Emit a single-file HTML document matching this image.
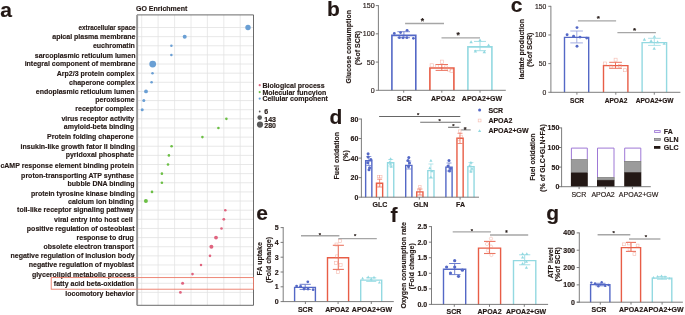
<!DOCTYPE html>
<html><head><meta charset="utf-8"><style>
html,body{margin:0;padding:0;background:#fff;width:685px;height:315px;overflow:hidden}
svg{display:block;will-change:transform}
text{font-family:"Liberation Sans", sans-serif;stroke:#231815;stroke-width:0.15px}
</style></head><body>
<svg width="685" height="315" viewBox="0 0 685 315">
<text x="0.2" y="16.6" font-size="21" font-weight="bold" text-anchor="start" fill="#231815">a</text>
<text x="327.0" y="16.2" font-size="21" font-weight="bold" text-anchor="start" fill="#231815">b</text>
<text x="510.8" y="12.2" font-size="21" font-weight="bold" text-anchor="start" fill="#231815">c</text>
<text x="329.5" y="123.9" font-size="21" font-weight="bold" text-anchor="start" fill="#231815">d</text>
<text x="256.2" y="220.1" font-size="21" font-weight="bold" text-anchor="start" fill="#231815">e</text>
<text x="390.6" y="222.1" font-size="21" font-weight="bold" text-anchor="start" fill="#231815">f</text>
<text x="546.3" y="220.0" font-size="21" font-weight="bold" text-anchor="start" fill="#231815">g</text>
<rect x="137.0" y="14.9" width="116.5" height="290.40000000000003" fill="#fff" stroke="none" stroke-width="1"/>
<line x1="141.7" y1="14.9" x2="141.7" y2="305.3" stroke="#e4e4e4" stroke-width="0.8"/>
<line x1="158.1" y1="14.9" x2="158.1" y2="305.3" stroke="#e4e4e4" stroke-width="0.8"/>
<line x1="174.6" y1="14.9" x2="174.6" y2="305.3" stroke="#e4e4e4" stroke-width="0.8"/>
<line x1="191.0" y1="14.9" x2="191.0" y2="305.3" stroke="#e4e4e4" stroke-width="0.8"/>
<line x1="207.4" y1="14.9" x2="207.4" y2="305.3" stroke="#e4e4e4" stroke-width="0.8"/>
<line x1="223.8" y1="14.9" x2="223.8" y2="305.3" stroke="#e4e4e4" stroke-width="0.8"/>
<line x1="240.2" y1="14.9" x2="240.2" y2="305.3" stroke="#e4e4e4" stroke-width="0.8"/>
<line x1="137.0" y1="27.5" x2="253.5" y2="27.5" stroke="#e2e2e2" stroke-width="0.8"/>
<line x1="137.0" y1="36.634" x2="253.5" y2="36.634" stroke="#e2e2e2" stroke-width="0.8"/>
<line x1="137.0" y1="45.768" x2="253.5" y2="45.768" stroke="#e2e2e2" stroke-width="0.8"/>
<line x1="137.0" y1="54.902" x2="253.5" y2="54.902" stroke="#e2e2e2" stroke-width="0.8"/>
<line x1="137.0" y1="64.036" x2="253.5" y2="64.036" stroke="#e2e2e2" stroke-width="0.8"/>
<line x1="137.0" y1="73.17" x2="253.5" y2="73.17" stroke="#e2e2e2" stroke-width="0.8"/>
<line x1="137.0" y1="82.304" x2="253.5" y2="82.304" stroke="#e2e2e2" stroke-width="0.8"/>
<line x1="137.0" y1="91.438" x2="253.5" y2="91.438" stroke="#e2e2e2" stroke-width="0.8"/>
<line x1="137.0" y1="100.572" x2="253.5" y2="100.572" stroke="#e2e2e2" stroke-width="0.8"/>
<line x1="137.0" y1="109.706" x2="253.5" y2="109.706" stroke="#e2e2e2" stroke-width="0.8"/>
<line x1="137.0" y1="118.84" x2="253.5" y2="118.84" stroke="#e2e2e2" stroke-width="0.8"/>
<line x1="137.0" y1="127.974" x2="253.5" y2="127.974" stroke="#e2e2e2" stroke-width="0.8"/>
<line x1="137.0" y1="137.108" x2="253.5" y2="137.108" stroke="#e2e2e2" stroke-width="0.8"/>
<line x1="137.0" y1="146.24200000000002" x2="253.5" y2="146.24200000000002" stroke="#e2e2e2" stroke-width="0.8"/>
<line x1="137.0" y1="155.376" x2="253.5" y2="155.376" stroke="#e2e2e2" stroke-width="0.8"/>
<line x1="137.0" y1="164.51" x2="253.5" y2="164.51" stroke="#e2e2e2" stroke-width="0.8"/>
<line x1="137.0" y1="173.644" x2="253.5" y2="173.644" stroke="#e2e2e2" stroke-width="0.8"/>
<line x1="137.0" y1="182.77800000000002" x2="253.5" y2="182.77800000000002" stroke="#e2e2e2" stroke-width="0.8"/>
<line x1="137.0" y1="191.912" x2="253.5" y2="191.912" stroke="#e2e2e2" stroke-width="0.8"/>
<line x1="137.0" y1="201.046" x2="253.5" y2="201.046" stroke="#e2e2e2" stroke-width="0.8"/>
<line x1="137.0" y1="210.18" x2="253.5" y2="210.18" stroke="#e2e2e2" stroke-width="0.8"/>
<line x1="137.0" y1="219.31400000000002" x2="253.5" y2="219.31400000000002" stroke="#e2e2e2" stroke-width="0.8"/>
<line x1="137.0" y1="228.448" x2="253.5" y2="228.448" stroke="#e2e2e2" stroke-width="0.8"/>
<line x1="137.0" y1="237.582" x2="253.5" y2="237.582" stroke="#e2e2e2" stroke-width="0.8"/>
<line x1="137.0" y1="246.716" x2="253.5" y2="246.716" stroke="#e2e2e2" stroke-width="0.8"/>
<line x1="137.0" y1="255.85000000000002" x2="253.5" y2="255.85000000000002" stroke="#e2e2e2" stroke-width="0.8"/>
<line x1="137.0" y1="264.98400000000004" x2="253.5" y2="264.98400000000004" stroke="#e2e2e2" stroke-width="0.8"/>
<line x1="137.0" y1="274.118" x2="253.5" y2="274.118" stroke="#e2e2e2" stroke-width="0.8"/>
<line x1="137.0" y1="283.252" x2="253.5" y2="283.252" stroke="#e2e2e2" stroke-width="0.8"/>
<line x1="137.0" y1="292.386" x2="253.5" y2="292.386" stroke="#e2e2e2" stroke-width="0.8"/>
<path d="M137.0 305.3 V14.9 H253.5 V305.3 Z" fill="none" stroke="#5a5a5a" stroke-width="0.9"/>
<line x1="137.3" y1="14.9" x2="137.3" y2="305.3" stroke="#9a9a9a" stroke-width="1.6"/>
<circle cx="248" cy="27.5" r="2.7" fill="#6a9fd4"/>
<circle cx="184.7" cy="36.634" r="2.0" fill="#6a9fd4"/>
<circle cx="171.4" cy="45.768" r="1.25" fill="#6a9fd4"/>
<circle cx="171.4" cy="54.902" r="1.25" fill="#6a9fd4"/>
<circle cx="152.7" cy="64.036" r="3.4" fill="#6a9fd4"/>
<circle cx="152.5" cy="73.17" r="1.25" fill="#6a9fd4"/>
<circle cx="151.6" cy="82.304" r="1.3" fill="#6a9fd4"/>
<circle cx="146" cy="91.438" r="1.9" fill="#6a9fd4"/>
<circle cx="143.8" cy="100.572" r="1.5" fill="#6a9fd4"/>
<circle cx="142.2" cy="109.706" r="1.5" fill="#6a9fd4"/>
<circle cx="226.4" cy="118.84" r="1.3" fill="#6cbf45"/>
<circle cx="218.4" cy="127.974" r="1.3" fill="#6cbf45"/>
<circle cx="202.4" cy="137.108" r="1.3" fill="#6cbf45"/>
<circle cx="171.6" cy="146.24200000000002" r="1.3" fill="#6cbf45"/>
<circle cx="168.9" cy="155.376" r="1.3" fill="#6cbf45"/>
<circle cx="168" cy="164.51" r="1.3" fill="#6cbf45"/>
<circle cx="161.9" cy="173.644" r="1.3" fill="#6cbf45"/>
<circle cx="161.9" cy="182.77800000000002" r="1.3" fill="#6cbf45"/>
<circle cx="152" cy="191.912" r="1.3" fill="#6cbf45"/>
<circle cx="145.9" cy="201.046" r="2.0" fill="#6cbf45"/>
<circle cx="225.3" cy="210.18" r="1.3" fill="#e0647f"/>
<circle cx="223.8" cy="219.31400000000002" r="1.4" fill="#e0647f"/>
<circle cx="221.5" cy="228.448" r="1.3" fill="#e0647f"/>
<circle cx="216" cy="237.582" r="1.9" fill="#e0647f"/>
<circle cx="211.4" cy="246.716" r="2.0" fill="#e0647f"/>
<circle cx="210" cy="255.85000000000002" r="1.3" fill="#e0647f"/>
<circle cx="201" cy="264.98400000000004" r="1.25" fill="#e0647f"/>
<circle cx="192.5" cy="274.118" r="1.3" fill="#e0647f"/>
<circle cx="182.6" cy="283.252" r="1.5" fill="#e0647f"/>
<circle cx="180.4" cy="292.386" r="1.4" fill="#e0647f"/>
<text x="135.5" y="29.7" font-size="7" font-weight="bold" text-anchor="end" fill="#231815" textLength="56.9" lengthAdjust="spacingAndGlyphs">extracellular space</text>
<text x="135.5" y="38.83" font-size="7" font-weight="bold" text-anchor="end" fill="#231815">apical plasma membrane</text>
<text x="134.9" y="47.87" font-size="7" font-weight="bold" text-anchor="end" fill="#231815">euchromatin</text>
<text x="135.5" y="57.9" font-size="7" font-weight="bold" text-anchor="end" fill="#231815">sarcoplasmic reticulum lumen</text>
<text x="135.5" y="65.74" font-size="7" font-weight="bold" text-anchor="end" fill="#231815">integral component of membrane</text>
<text x="134.58" y="75.77" font-size="7" font-weight="bold" text-anchor="end" fill="#231815">Arp2/3 protein complex</text>
<text x="134.82" y="84.5" font-size="7" font-weight="bold" text-anchor="end" fill="#231815">chaperone complex</text>
<text x="134.58" y="93.74" font-size="7" font-weight="bold" text-anchor="end" fill="#231815">endoplasmic reticulum lumen</text>
<text x="134.58" y="101.87" font-size="7" font-weight="bold" text-anchor="end" fill="#231815">peroxisome</text>
<text x="133.7" y="111.21" font-size="7" font-weight="bold" text-anchor="end" fill="#231815">receptor complex</text>
<text x="134.16" y="120.64" font-size="7" font-weight="bold" text-anchor="end" fill="#231815">virus receptor activity</text>
<text x="134.16" y="129.37" font-size="7" font-weight="bold" text-anchor="end" fill="#231815">amyloid-beta binding</text>
<text x="133.74" y="138.91" font-size="7" font-weight="bold" text-anchor="end" fill="#231815">Protein folding chaperone</text>
<text x="134.94" y="148.94" font-size="7" font-weight="bold" text-anchor="end" fill="#231815">insukin-like growth fator II binding</text>
<text x="134.16" y="156.58" font-size="7" font-weight="bold" text-anchor="end" fill="#231815">pyridoxal phosphate</text>
<text x="134.1" y="167.71" font-size="7" font-weight="bold" text-anchor="end" fill="#231815">cAMP response element binding protein</text>
<text x="134.16" y="178.04" font-size="7" font-weight="bold" text-anchor="end" fill="#231815">proton-transporting ATP synthase</text>
<text x="134.58" y="186.08" font-size="7" font-weight="bold" text-anchor="end" fill="#231815">bubble DNA binding</text>
<text x="134.76" y="195.61" font-size="7" font-weight="bold" text-anchor="end" fill="#231815">protein tyrosine kinase binding</text>
<text x="133.74" y="203.75" font-size="7" font-weight="bold" text-anchor="end" fill="#231815">calcium ion binding</text>
<text x="134.16" y="212.38" font-size="7" font-weight="bold" text-anchor="end" fill="#231815">toll-like receptor signaling pathway</text>
<text x="132.64" y="221.81" font-size="7" font-weight="bold" text-anchor="end" fill="#231815">viral entry into host cell</text>
<text x="134.58" y="230.95" font-size="7" font-weight="bold" text-anchor="end" fill="#231815">positive regulation of osteoblast</text>
<text x="133.74" y="240.08" font-size="7" font-weight="bold" text-anchor="end" fill="#231815">response to drug</text>
<text x="134.16" y="249.22" font-size="7" font-weight="bold" text-anchor="end" fill="#231815">obsolete electron transport</text>
<text x="134.58" y="258.35" font-size="7" font-weight="bold" text-anchor="end" fill="#231815">negative regulation of inclusion body</text>
<text x="134.16" y="267.48" font-size="7" font-weight="bold" text-anchor="end" fill="#231815">negative regulation of myoblast</text>
<text x="134.58" y="276.62" font-size="7" font-weight="bold" text-anchor="end" fill="#231815">glycerolipid metabolic process</text>
<text x="134.34" y="285.75" font-size="7" font-weight="bold" text-anchor="end" fill="#231815">fatty acid beta-oxidation</text>
<text x="134.58" y="296.09" font-size="7" font-weight="bold" text-anchor="end" fill="#231815">locomotory behavior</text>
<text x="136.0" y="10.8" font-size="7" font-weight="bold" text-anchor="start" fill="#231815">GO Enrichment</text>
<rect x="51.2" y="277.6" width="202.3" height="11.6" fill="none" stroke="#ec7a68" stroke-width="0.9"/>
<circle cx="259.7" cy="85.2" r="1.1" fill="#e0647f"/>
<text x="262.4" y="87.7" font-size="7" font-weight="bold" text-anchor="start" fill="#231815">Biological process</text>
<circle cx="259.7" cy="92.1" r="1.1" fill="#6cbf45"/>
<text x="262.4" y="94.6" font-size="7" font-weight="bold" text-anchor="start" fill="#231815">Molecular funcyion</text>
<circle cx="259.7" cy="98.6" r="1.1" fill="#6a9fd4"/>
<text x="262.4" y="101.1" font-size="7" font-weight="bold" text-anchor="start" fill="#231815">Cellular component</text>
<circle cx="259.7" cy="111.5" r="0.9" fill="#5a5a5a"/>
<text x="264.3" y="114.0" font-size="7" font-weight="bold" text-anchor="start" fill="#231815">6</text>
<circle cx="259.7" cy="117.6" r="2.3" fill="#5a5a5a"/>
<text x="264.3" y="122.3" font-size="7" font-weight="bold" text-anchor="start" fill="#231815">143</text>
<circle cx="260.0" cy="124.6" r="3.1" fill="#5a5a5a"/>
<text x="264.3" y="128.3" font-size="7" font-weight="bold" text-anchor="start" fill="#231815">280</text>
<line x1="378.4" y1="5.199999999999999" x2="378.4" y2="90.7" stroke="#6e6e6e" stroke-width="0.9"/>
<line x1="375.79999999999995" y1="5.594999999999999" x2="378.4" y2="5.594999999999999" stroke="#6e6e6e" stroke-width="0.9"/>
<text x="374.6" y="8.09" font-size="7.1" font-weight="normal" text-anchor="end" fill="#231815">150</text>
<line x1="375.79999999999995" y1="33.83" x2="378.4" y2="33.83" stroke="#6e6e6e" stroke-width="0.9"/>
<text x="374.6" y="36.33" font-size="7.1" font-weight="normal" text-anchor="end" fill="#231815">100</text>
<line x1="375.79999999999995" y1="62.065" x2="378.4" y2="62.065" stroke="#6e6e6e" stroke-width="0.9"/>
<text x="374.6" y="64.56" font-size="7.1" font-weight="normal" text-anchor="end" fill="#231815">50</text>
<line x1="375.79999999999995" y1="90.3" x2="378.4" y2="90.3" stroke="#6e6e6e" stroke-width="0.9"/>
<text x="374.6" y="92.8" font-size="7.1" font-weight="normal" text-anchor="end" fill="#231815">0</text>
<path d="M391.9 90.3 V35.40 H415.8 V90.3" fill="none" stroke="#5468c6" stroke-width="1.6"/>
<path d="M429.9 90.3 V68.00 H453.9 V90.3" fill="none" stroke="#e85d46" stroke-width="1.6"/>
<path d="M467.9 90.3 V46.90 H491.9 V90.3" fill="none" stroke="#93d9e1" stroke-width="1.6"/>
<g stroke="#5468c6" stroke-width="0.9" opacity="0.85"><line x1="403.9" y1="31.7" x2="403.9" y2="37.7"/><line x1="397.4" y1="31.7" x2="410.0" y2="31.7"/><line x1="397.4" y1="37.7" x2="410.0" y2="37.7"/></g>
<circle cx="394.3" cy="33.4" r="1.4" fill="#5468c6"/>
<circle cx="400.6" cy="32.6" r="1.4" fill="#5468c6"/>
<circle cx="407.1" cy="30.3" r="1.4" fill="#5468c6"/>
<circle cx="399.4" cy="37.7" r="1.4" fill="#5468c6"/>
<circle cx="403" cy="37.8" r="1.4" fill="#5468c6"/>
<circle cx="406.9" cy="37.7" r="1.4" fill="#5468c6"/>
<circle cx="413.4" cy="38.3" r="1.4" fill="#5468c6"/>
<g stroke="#e85d46" stroke-width="1.0" opacity="0.85"><line x1="441.8" y1="64.5" x2="441.8" y2="70.4"/><line x1="435.6" y1="64.5" x2="448.0" y2="64.5"/><line x1="435.6" y1="70.4" x2="448.0" y2="70.4"/></g>
<rect x="440.4" y="60.1" width="3.2" height="3.2" fill="none" stroke="#ee8c79" stroke-width="0.6" opacity="0.6"/>
<rect x="430.09999999999997" y="63.800000000000004" width="3.2" height="3.2" fill="none" stroke="#ee8c79" stroke-width="0.6" opacity="0.6"/>
<rect x="435.4" y="64.80000000000001" width="3.2" height="3.2" fill="none" stroke="#ee8c79" stroke-width="0.6" opacity="0.6"/>
<rect x="444.4" y="65.9" width="3.2" height="3.2" fill="none" stroke="#ee8c79" stroke-width="0.6" opacity="0.6"/>
<rect x="447.4" y="67.9" width="3.2" height="3.2" fill="none" stroke="#ee8c79" stroke-width="0.6" opacity="0.6"/>
<rect x="449.9" y="69.4" width="3.2" height="3.2" fill="none" stroke="#ee8c79" stroke-width="0.6" opacity="0.6"/>
<g stroke="#93d9e1" stroke-width="1.0" opacity="0.85"><line x1="480.0" y1="41.4" x2="480.0" y2="50.7"/><line x1="474.0" y1="41.4" x2="486.0" y2="41.4"/><line x1="474.0" y1="50.7" x2="486.0" y2="50.7"/></g>
<path d="M471.1 40.275 L472.82500000000005 43.275 L469.375 43.275 Z" fill="#93d9e1"/>
<path d="M480.0 38.574999999999996 L481.725 41.574999999999996 L478.275 41.574999999999996 Z" fill="#93d9e1"/>
<path d="M488.6 43.375 L490.32500000000005 46.375 L486.875 46.375 Z" fill="#93d9e1"/>
<path d="M475.4 49.375 L477.125 52.375 L473.67499999999995 52.375 Z" fill="#93d9e1"/>
<path d="M484.3 50.275 L486.02500000000003 53.275 L482.575 53.275 Z" fill="#93d9e1"/>
<line x1="378.4" y1="90.3" x2="505.8" y2="90.3" stroke="#6e6e6e" stroke-width="0.9"/>
<line x1="403.7" y1="90.3" x2="403.7" y2="92.7" stroke="#6e6e6e" stroke-width="0.9"/>
<line x1="441.8" y1="90.3" x2="441.8" y2="92.7" stroke="#6e6e6e" stroke-width="0.9"/>
<line x1="480.0" y1="90.3" x2="480.0" y2="92.7" stroke="#6e6e6e" stroke-width="0.9"/>
<text x="404.5" y="100.8" font-size="7" font-weight="bold" text-anchor="middle" fill="#231815">SCR</text>
<text x="443" y="100.8" font-size="7" font-weight="bold" text-anchor="middle" fill="#231815">APOA2</text>
<text x="482" y="100.8" font-size="7" font-weight="bold" text-anchor="middle" fill="#231815">APOA2+GW</text>
<line x1="405.1" y1="23.5" x2="444.0" y2="23.5" stroke="#a6a6a6" stroke-width="1.4"/>
<text x="422.5" y="23.79" font-size="8.6" font-weight="bold" text-anchor="middle" fill="#231815">*</text>
<line x1="441.5" y1="37.9" x2="480.0" y2="37.9" stroke="#a6a6a6" stroke-width="1.4"/>
<text x="458.3" y="38.29" font-size="8.6" font-weight="bold" text-anchor="middle" fill="#231815">*</text>
<text x="351.2" y="46.8" font-size="7" font-weight="bold" text-anchor="middle" fill="#231815" transform="rotate(-90 351.2 46.8)">Glucose consumption</text>
<text x="360.0" y="48.0" font-size="7" font-weight="bold" text-anchor="middle" fill="#231815" transform="rotate(-90 360.0 48.0)">(%of SCR)</text>
<line x1="550.9" y1="5.8999999999999995" x2="550.9" y2="92.7" stroke="#6e6e6e" stroke-width="0.9"/>
<line x1="548.3" y1="6.304999999999993" x2="550.9" y2="6.304999999999993" stroke="#6e6e6e" stroke-width="0.9"/>
<text x="546.3" y="8.8" font-size="6.8" font-weight="normal" text-anchor="end" fill="#231815">150</text>
<line x1="548.3" y1="34.96999999999999" x2="550.9" y2="34.96999999999999" stroke="#6e6e6e" stroke-width="0.9"/>
<text x="546.3" y="37.47" font-size="6.8" font-weight="normal" text-anchor="end" fill="#231815">100</text>
<line x1="548.3" y1="63.63499999999999" x2="550.9" y2="63.63499999999999" stroke="#6e6e6e" stroke-width="0.9"/>
<text x="546.3" y="66.13" font-size="6.8" font-weight="normal" text-anchor="end" fill="#231815">50</text>
<line x1="548.3" y1="92.3" x2="550.9" y2="92.3" stroke="#6e6e6e" stroke-width="0.9"/>
<text x="546.3" y="94.8" font-size="6.8" font-weight="normal" text-anchor="end" fill="#231815">0</text>
<path d="M564.5 92.3 V37.40 H588.7 V92.3" fill="none" stroke="#5468c6" stroke-width="1.4"/>
<path d="M603.5 92.3 V65.60 H627.9 V92.3" fill="none" stroke="#e85d46" stroke-width="1.4"/>
<path d="M642.1 92.3 V42.60 H666.6 V92.3" fill="none" stroke="#93d9e1" stroke-width="1.4"/>
<g stroke="#5468c6" stroke-width="0.9" opacity="0.6"><line x1="576.8" y1="31.0" x2="576.8" y2="42.9"/><line x1="570.3" y1="31.0" x2="582.9" y2="31.0"/><line x1="570.3" y1="42.9" x2="582.9" y2="42.9"/></g>
<circle cx="577" cy="27.6" r="1.45" fill="#5468c6"/>
<circle cx="567.1" cy="34.8" r="1.45" fill="#5468c6"/>
<circle cx="573.6" cy="36.2" r="1.45" fill="#5468c6"/>
<circle cx="580" cy="37.1" r="1.45" fill="#5468c6"/>
<circle cx="586.7" cy="38.1" r="1.45" fill="#5468c6"/>
<circle cx="577" cy="46.2" r="1.45" fill="#5468c6"/>
<g stroke="#e85d46" stroke-width="1.0" opacity="0.85"><line x1="615.5" y1="62.3" x2="615.5" y2="68.3"/><line x1="609.2" y1="62.3" x2="621.9" y2="62.3"/><line x1="609.2" y1="68.3" x2="621.9" y2="68.3"/></g>
<rect x="614.1" y="58.2" width="3.0" height="3.0" fill="none" stroke="#ee8c79" stroke-width="0.6" opacity="0.6"/>
<rect x="603.3" y="62.0" width="3.0" height="3.0" fill="none" stroke="#ee8c79" stroke-width="0.6" opacity="0.6"/>
<rect x="623.6" y="68.7" width="3.0" height="3.0" fill="none" stroke="#ee8c79" stroke-width="0.6" opacity="0.6"/>
<rect x="609.5" y="65.0" width="3.0" height="3.0" fill="none" stroke="#ee8c79" stroke-width="0.6" opacity="0.6"/>
<rect x="618.5" y="64.5" width="3.0" height="3.0" fill="none" stroke="#ee8c79" stroke-width="0.6" opacity="0.6"/>
<g stroke="#93d9e1" stroke-width="0.9" opacity="0.85"><line x1="654.3" y1="38.3" x2="654.3" y2="45.4"/><line x1="648.1" y1="38.3" x2="660.7" y2="38.3"/><line x1="648.1" y1="45.4" x2="660.7" y2="45.4"/></g>
<path d="M644.4 37.7325 L646.0675 40.6325 L642.7325 40.6325 Z" fill="#93d9e1"/>
<path d="M651.1 39.1325 L652.7675 42.0325 L649.4325 42.0325 Z" fill="#93d9e1"/>
<path d="M654.4 34.932500000000005 L656.0675 37.8325 L652.7325 37.8325 Z" fill="#93d9e1"/>
<path d="M657.6 40.2325 L659.2675 43.1325 L655.9325 43.1325 Z" fill="#93d9e1"/>
<path d="M664.2 41.932500000000005 L665.8675000000001 44.8325 L662.5325 44.8325 Z" fill="#93d9e1"/>
<path d="M654.2 46.8325 L655.8675000000001 49.7325 L652.5325 49.7325 Z" fill="#93d9e1"/>
<line x1="550.9" y1="92.3" x2="680.4" y2="92.3" stroke="#6e6e6e" stroke-width="0.9"/>
<line x1="576.9" y1="92.3" x2="576.9" y2="94.7" stroke="#6e6e6e" stroke-width="0.9"/>
<line x1="615.8" y1="92.3" x2="615.8" y2="94.7" stroke="#6e6e6e" stroke-width="0.9"/>
<line x1="654.3" y1="92.3" x2="654.3" y2="94.7" stroke="#6e6e6e" stroke-width="0.9"/>
<text x="577" y="102.7" font-size="6.6" font-weight="bold" text-anchor="middle" fill="#231815">SCR</text>
<text x="616" y="102.7" font-size="6.6" font-weight="bold" text-anchor="middle" fill="#231815">APOA2</text>
<text x="654.6" y="102.7" font-size="6.6" font-weight="bold" text-anchor="middle" fill="#231815">APOA2+GW</text>
<line x1="577.9" y1="20.9" x2="616.1" y2="20.9" stroke="#a6a6a6" stroke-width="1.4"/>
<text x="598.3" y="20.88" font-size="8" font-weight="bold" text-anchor="middle" fill="#231815">*</text>
<line x1="617.4" y1="32.6" x2="655.9" y2="32.6" stroke="#a6a6a6" stroke-width="1.4"/>
<text x="634.5" y="32.68" font-size="8" font-weight="bold" text-anchor="middle" fill="#231815">*</text>
<text x="523.8" y="49.2" font-size="7" font-weight="bold" text-anchor="middle" fill="#231815" transform="rotate(-90 523.8 49.2)">lactate production</text>
<text x="531.8" y="49.7" font-size="7" font-weight="bold" text-anchor="middle" fill="#231815" transform="rotate(-90 531.8 49.7)">(%of SCR)</text>
<line x1="361.4" y1="118.6" x2="361.4" y2="197.6" stroke="#6e6e6e" stroke-width="0.9"/>
<line x1="358.79999999999995" y1="118.99999999999999" x2="361.4" y2="118.99999999999999" stroke="#6e6e6e" stroke-width="0.9"/>
<text x="358.4" y="121.5" font-size="7" font-weight="bold" text-anchor="end" fill="#231815">80</text>
<line x1="358.79999999999995" y1="138.54999999999998" x2="361.4" y2="138.54999999999998" stroke="#6e6e6e" stroke-width="0.9"/>
<text x="358.4" y="141.05" font-size="7" font-weight="bold" text-anchor="end" fill="#231815">60</text>
<line x1="358.79999999999995" y1="158.1" x2="361.4" y2="158.1" stroke="#6e6e6e" stroke-width="0.9"/>
<text x="358.4" y="160.6" font-size="7" font-weight="bold" text-anchor="end" fill="#231815">40</text>
<line x1="358.79999999999995" y1="177.64999999999998" x2="361.4" y2="177.64999999999998" stroke="#6e6e6e" stroke-width="0.9"/>
<text x="358.4" y="180.15" font-size="7" font-weight="bold" text-anchor="end" fill="#231815">20</text>
<line x1="358.79999999999995" y1="197.2" x2="361.4" y2="197.2" stroke="#6e6e6e" stroke-width="0.9"/>
<text x="358.4" y="199.7" font-size="7" font-weight="bold" text-anchor="end" fill="#231815">0</text>
<path d="M365.65 197.2 V160.80 H371.85 V197.2" fill="none" stroke="#5468c6" stroke-width="1.4"/>
<path d="M376.45 197.2 V183.20 H382.65000000000003 V197.2" fill="none" stroke="#e85d46" stroke-width="1.4"/>
<path d="M387.54999999999995 197.2 V162.70 H393.75 V197.2" fill="none" stroke="#93d9e1" stroke-width="1.4"/>
<path d="M405.7 197.2 V165.40 H411.90000000000003 V197.2" fill="none" stroke="#5468c6" stroke-width="1.4"/>
<path d="M416.75 197.2 V191.90 H422.95000000000005 V197.2" fill="none" stroke="#e85d46" stroke-width="1.4"/>
<path d="M427.79999999999995 197.2 V170.60 H434.0 V197.2" fill="none" stroke="#93d9e1" stroke-width="1.4"/>
<path d="M445.9 197.2 V167.10 H452.1 V197.2" fill="none" stroke="#5468c6" stroke-width="1.4"/>
<path d="M456.95 197.2 V138.20 H463.15000000000003 V197.2" fill="none" stroke="#e85d46" stroke-width="1.4"/>
<path d="M467.84999999999997 197.2 V166.60 H474.05 V197.2" fill="none" stroke="#93d9e1" stroke-width="1.4"/>
<g stroke="#5468c6" stroke-width="0.8" opacity="0.85"><line x1="368.8" y1="156.5" x2="368.8" y2="165.5"/><line x1="366.3" y1="156.5" x2="371.3" y2="156.5"/><line x1="366.3" y1="165.5" x2="371.3" y2="165.5"/></g>
<circle cx="368.1" cy="153.8" r="1.5" fill="#5468c6"/>
<circle cx="368.1" cy="157" r="1.5" fill="#5468c6"/>
<circle cx="370.9" cy="159.5" r="1.5" fill="#5468c6"/>
<circle cx="367.7" cy="162.7" r="1.5" fill="#5468c6"/>
<circle cx="369.6" cy="167.8" r="1.5" fill="#5468c6"/>
<circle cx="369" cy="169.7" r="1.5" fill="#5468c6"/>
<g stroke="#e85d46" stroke-width="0.8" opacity="0.85"><line x1="379.6" y1="179.2" x2="379.6" y2="187.0"/><line x1="377.1" y1="179.2" x2="382.1" y2="179.2"/><line x1="377.1" y1="187.0" x2="382.1" y2="187.0"/></g>
<rect x="377.3" y="175.4" width="2.4" height="2.4" fill="none" stroke="#ee8c79" stroke-width="0.6" opacity="0.6"/>
<rect x="379.6" y="175.4" width="2.4" height="2.4" fill="none" stroke="#ee8c79" stroke-width="0.6" opacity="0.6"/>
<rect x="377.8" y="183.8" width="2.4" height="2.4" fill="none" stroke="#ee8c79" stroke-width="0.6" opacity="0.6"/>
<g stroke="#93d9e1" stroke-width="0.8" opacity="0.85"><line x1="390.7" y1="159.5" x2="390.7" y2="166.0"/><line x1="388.2" y1="159.5" x2="393.2" y2="159.5"/><line x1="388.2" y1="166.0" x2="393.2" y2="166.0"/></g>
<path d="M390.6 157.29 L392.21000000000004 160.09 L388.99 160.09 Z" fill="#93d9e1"/>
<path d="M389.7 160.39 L391.31 163.19 L388.09 163.19 Z" fill="#93d9e1"/>
<path d="M391.2 164.89 L392.81 167.69 L389.59 167.69 Z" fill="#93d9e1"/>
<path d="M390.5 161.89 L392.11 164.69 L388.89 164.69 Z" fill="#93d9e1"/>
<g stroke="#5468c6" stroke-width="0.8" opacity="0.85"><line x1="408.8" y1="161.0" x2="408.8" y2="169.0"/><line x1="406.3" y1="161.0" x2="411.3" y2="161.0"/><line x1="406.3" y1="169.0" x2="411.3" y2="169.0"/></g>
<circle cx="408.8" cy="157.5" r="1.5" fill="#5468c6"/>
<circle cx="408.0" cy="160.5" r="1.5" fill="#5468c6"/>
<circle cx="409.5" cy="163.0" r="1.5" fill="#5468c6"/>
<circle cx="408.5" cy="166.5" r="1.5" fill="#5468c6"/>
<g stroke="#e85d46" stroke-width="0.8" opacity="0.85"><line x1="419.9" y1="189.0" x2="419.9" y2="195.0"/><line x1="417.4" y1="189.0" x2="422.4" y2="189.0"/><line x1="417.4" y1="195.0" x2="422.4" y2="195.0"/></g>
<rect x="418.7" y="185.3" width="2.4" height="2.4" fill="none" stroke="#ee8c79" stroke-width="0.6" opacity="0.6"/>
<rect x="417.8" y="188.8" width="2.4" height="2.4" fill="none" stroke="#ee8c79" stroke-width="0.6" opacity="0.6"/>
<g stroke="#93d9e1" stroke-width="0.8" opacity="0.85"><line x1="430.9" y1="164.0" x2="430.9" y2="178.0"/><line x1="428.4" y1="164.0" x2="433.4" y2="164.0"/><line x1="428.4" y1="178.0" x2="433.4" y2="178.0"/></g>
<path d="M430.9 158.89 L432.51 161.69 L429.28999999999996 161.69 Z" fill="#93d9e1"/>
<path d="M429.8 166.39 L431.41 169.19 L428.19 169.19 Z" fill="#93d9e1"/>
<path d="M431.8 169.39 L433.41 172.19 L430.19 172.19 Z" fill="#93d9e1"/>
<path d="M430.9 175.39 L432.51 178.19 L429.28999999999996 178.19 Z" fill="#93d9e1"/>
<g stroke="#5468c6" stroke-width="0.8" opacity="0.85"><line x1="449.0" y1="163.0" x2="449.0" y2="171.0"/><line x1="446.5" y1="163.0" x2="451.5" y2="163.0"/><line x1="446.5" y1="171.0" x2="451.5" y2="171.0"/></g>
<circle cx="449.0" cy="160.5" r="1.5" fill="#5468c6"/>
<circle cx="448.0" cy="166.0" r="1.5" fill="#5468c6"/>
<circle cx="450.5" cy="168.5" r="1.5" fill="#5468c6"/>
<circle cx="449.5" cy="171.0" r="1.5" fill="#5468c6"/>
<g stroke="#e85d46" stroke-width="0.8" opacity="0.85"><line x1="460.0" y1="133.3" x2="460.0" y2="143.5"/><line x1="457.5" y1="133.3" x2="462.5" y2="133.3"/><line x1="457.5" y1="143.5" x2="462.5" y2="143.5"/></g>
<rect x="458.4" y="129.89999999999998" width="2.6" height="2.6" fill="none" stroke="#ee8c79" stroke-width="0.6" opacity="0.6"/>
<rect x="459.7" y="135.2" width="2.6" height="2.6" fill="none" stroke="#ee8c79" stroke-width="0.6" opacity="0.6"/>
<rect x="457.2" y="138.2" width="2.6" height="2.6" fill="none" stroke="#ee8c79" stroke-width="0.6" opacity="0.6"/>
<g stroke="#93d9e1" stroke-width="0.8" opacity="0.85"><line x1="470.9" y1="162.5" x2="470.9" y2="171.0"/><line x1="468.4" y1="162.5" x2="473.4" y2="162.5"/><line x1="468.4" y1="171.0" x2="473.4" y2="171.0"/></g>
<path d="M470.9 160.89 L472.51 163.69 L469.28999999999996 163.69 Z" fill="#93d9e1"/>
<path d="M469.5 163.89 L471.11 166.69 L467.89 166.69 Z" fill="#93d9e1"/>
<path d="M472.0 166.89 L473.61 169.69 L470.39 169.69 Z" fill="#93d9e1"/>
<path d="M470.9 169.89 L472.51 172.69 L469.28999999999996 172.69 Z" fill="#93d9e1"/>
<line x1="361.4" y1="197.2" x2="479.0" y2="197.2" stroke="#6e6e6e" stroke-width="0.9"/>
<line x1="379.4" y1="197.2" x2="379.4" y2="199.6" stroke="#6e6e6e" stroke-width="0.9"/>
<line x1="419.3" y1="197.2" x2="419.3" y2="199.6" stroke="#6e6e6e" stroke-width="0.9"/>
<line x1="460.1" y1="197.2" x2="460.1" y2="199.6" stroke="#6e6e6e" stroke-width="0.9"/>
<text x="380.0" y="206.8" font-size="7" font-weight="bold" text-anchor="middle" fill="#231815">GLC</text>
<text x="421.0" y="206.8" font-size="7" font-weight="bold" text-anchor="middle" fill="#231815">GLN</text>
<text x="460.6" y="206.8" font-size="7" font-weight="bold" text-anchor="middle" fill="#231815">FA</text>
<line x1="379.1" y1="116.5" x2="460.3" y2="116.5" stroke="#666666" stroke-width="1.1"/>
<text x="418.1" y="117.36" font-size="5.8" font-weight="bold" text-anchor="middle" fill="#231815">*</text>
<line x1="420.2" y1="122.3" x2="460.8" y2="122.3" stroke="#707070" stroke-width="1.1"/>
<text x="439.6" y="122.86" font-size="5.8" font-weight="bold" text-anchor="middle" fill="#231815">*</text>
<line x1="448.1" y1="127.3" x2="459.3" y2="127.3" stroke="#707070" stroke-width="1.1"/>
<text x="453.5" y="127.96" font-size="5.8" font-weight="bold" text-anchor="middle" fill="#231815">*</text>
<line x1="461.2" y1="129.9" x2="470.7" y2="129.9" stroke="#8a8a8a" stroke-width="1.1"/>
<text x="465.2" y="131.97" font-size="7" font-weight="bold" text-anchor="middle" fill="#231815">*</text>
<text x="339.5" y="155.7" font-size="7" font-weight="bold" text-anchor="middle" fill="#231815" transform="rotate(-90 339.5 155.7)">Fuel oxidation</text>
<text x="348.1" y="155.7" font-size="7" font-weight="bold" text-anchor="middle" fill="#231815" transform="rotate(-90 348.1 155.7)">(%)</text>
<circle cx="479.6" cy="110.0" r="1.5" fill="#5468c6"/>
<rect x="478.20000000000005" y="119.1" width="2.8" height="2.8" fill="none" stroke="#ee8c79" stroke-width="0.6" opacity="0.6"/>
<path d="M479.6 129.29 L481.21000000000004 132.09 L477.99 132.09 Z" fill="#93d9e1"/>
<text x="488.4" y="112.5" font-size="7" font-weight="bold" text-anchor="start" fill="#231815">SCR</text>
<text x="488.4" y="123.0" font-size="7" font-weight="bold" text-anchor="start" fill="#231815">APOA2</text>
<text x="488.4" y="133.4" font-size="7" font-weight="bold" text-anchor="start" fill="#231815">APOA2+GW</text>
<line x1="561.6" y1="127.5" x2="561.6" y2="187.1" stroke="#6e6e6e" stroke-width="0.9"/>
<line x1="559.0" y1="127.89999999999998" x2="561.6" y2="127.89999999999998" stroke="#6e6e6e" stroke-width="0.9"/>
<text x="559.3" y="130.4" font-size="7" font-weight="bold" text-anchor="end" fill="#231815">150</text>
<line x1="559.0" y1="147.5" x2="561.6" y2="147.5" stroke="#6e6e6e" stroke-width="0.9"/>
<text x="559.3" y="150.0" font-size="7" font-weight="bold" text-anchor="end" fill="#231815">100</text>
<line x1="559.0" y1="167.1" x2="561.6" y2="167.1" stroke="#6e6e6e" stroke-width="0.9"/>
<text x="559.3" y="169.6" font-size="7" font-weight="bold" text-anchor="end" fill="#231815">50</text>
<line x1="559.0" y1="186.7" x2="561.6" y2="186.7" stroke="#6e6e6e" stroke-width="0.9"/>
<text x="559.3" y="189.2" font-size="7" font-weight="bold" text-anchor="end" fill="#231815">0</text>
<path d="M571.4 159.3 V148.1 H587.3 V159.3" fill="none" stroke="#9e78d6" stroke-width="1"/>
<rect x="571.1999999999999" y="159.60000000000002" width="16.299999999999976" height="12.999999999999982" fill="#9b9b9b" stroke="#707070" stroke-width="0.6"/>
<rect x="570.9" y="172.6" width="16.899999999999977" height="14.099999999999994" fill="#231815" stroke="none" stroke-width="1"/>
<path d="M597.5 177.1 V148.1 H614.0 V177.1" fill="none" stroke="#9e78d6" stroke-width="1"/>
<rect x="597.3" y="177.4" width="16.9" height="2.7" fill="#9b9b9b" stroke="#707070" stroke-width="0.6"/>
<rect x="597.0" y="180.1" width="17.5" height="6.599999999999994" fill="#231815" stroke="none" stroke-width="1"/>
<path d="M624.7 161.0 V148.1 H640.8 V161.0" fill="none" stroke="#9e78d6" stroke-width="1"/>
<rect x="624.5" y="161.3" width="16.499999999999908" height="11.00000000000001" fill="#9b9b9b" stroke="#707070" stroke-width="0.6"/>
<rect x="624.2" y="172.3" width="17.09999999999991" height="14.399999999999977" fill="#231815" stroke="none" stroke-width="1"/>
<line x1="561.6" y1="186.7" x2="650.8" y2="186.7" stroke="#6e6e6e" stroke-width="0.9"/>
<line x1="579.1" y1="186.7" x2="579.1" y2="189.1" stroke="#6e6e6e" stroke-width="0.9"/>
<line x1="605.3" y1="186.7" x2="605.3" y2="189.1" stroke="#6e6e6e" stroke-width="0.9"/>
<line x1="632.4" y1="186.7" x2="632.4" y2="189.1" stroke="#6e6e6e" stroke-width="0.9"/>
<text x="578.8" y="197.2" font-size="7" font-weight="normal" text-anchor="middle" fill="#231815">SCR</text>
<text x="603.1" y="197.2" font-size="7" font-weight="normal" text-anchor="middle" fill="#231815">APOA2</text>
<text x="638.6" y="197.2" font-size="7" font-weight="normal" text-anchor="middle" fill="#231815">APOA2+GW</text>
<rect x="654.6" y="130.6" width="5.6" height="1.8" fill="#fff" stroke="#9e78d6" stroke-width="0.9"/>
<rect x="654.5" y="138.5" width="5.8" height="2.0" fill="#a8a8a8" stroke="#777" stroke-width="0.7"/>
<rect x="654.0" y="146.0" width="6.4" height="2.8" fill="#231815" stroke="none" stroke-width="1"/>
<text x="663.8" y="134.0" font-size="7" font-weight="bold" text-anchor="start" fill="#231815">FA</text>
<text x="663.8" y="141.9" font-size="7" font-weight="bold" text-anchor="start" fill="#231815">GLN</text>
<text x="663.8" y="149.6" font-size="7" font-weight="bold" text-anchor="start" fill="#231815">GLC</text>
<text x="535.5" y="157.1" font-size="7" font-weight="bold" text-anchor="middle" fill="#231815" transform="rotate(-90 535.5 157.1)">Fuel oxidation</text>
<text x="544.5" y="158.0" font-size="6.95" font-weight="bold" text-anchor="middle" fill="#231815" transform="rotate(-90 544.5 158.0)">(% of GLC+GLN+FA)</text>
<line x1="283.2" y1="227.0" x2="283.2" y2="302.0" stroke="#6e6e6e" stroke-width="0.9"/>
<line x1="280.59999999999997" y1="227.60000000000002" x2="283.2" y2="227.60000000000002" stroke="#6e6e6e" stroke-width="0.9"/>
<text x="278.6" y="230.1" font-size="7" font-weight="bold" text-anchor="end" fill="#231815">5</text>
<line x1="280.59999999999997" y1="242.40000000000003" x2="283.2" y2="242.40000000000003" stroke="#6e6e6e" stroke-width="0.9"/>
<text x="278.6" y="244.9" font-size="7" font-weight="bold" text-anchor="end" fill="#231815">4</text>
<line x1="280.59999999999997" y1="257.20000000000005" x2="283.2" y2="257.20000000000005" stroke="#6e6e6e" stroke-width="0.9"/>
<text x="278.6" y="259.7" font-size="7" font-weight="bold" text-anchor="end" fill="#231815">3</text>
<line x1="280.59999999999997" y1="272.0" x2="283.2" y2="272.0" stroke="#6e6e6e" stroke-width="0.9"/>
<text x="278.6" y="274.5" font-size="7" font-weight="bold" text-anchor="end" fill="#231815">2</text>
<line x1="280.59999999999997" y1="286.8" x2="283.2" y2="286.8" stroke="#6e6e6e" stroke-width="0.9"/>
<text x="278.6" y="289.3" font-size="7" font-weight="bold" text-anchor="end" fill="#231815">1</text>
<line x1="280.59999999999997" y1="301.6" x2="283.2" y2="301.6" stroke="#6e6e6e" stroke-width="0.9"/>
<text x="278.6" y="304.1" font-size="7" font-weight="bold" text-anchor="end" fill="#231815">0</text>
<path d="M294.6 301.6 V287.40 H315.4 V301.6" fill="none" stroke="#5468c6" stroke-width="1.4"/>
<path d="M327.5 301.6 V257.80 H348.6 V301.6" fill="none" stroke="#e85d46" stroke-width="1.4"/>
<path d="M360.7 301.6 V280.10 H381.7 V301.6" fill="none" stroke="#93d9e1" stroke-width="1.4"/>
<g stroke="#5468c6" stroke-width="1.0" opacity="0.85"><line x1="305.2" y1="284.3" x2="305.2" y2="289.4"/><line x1="299.6" y1="284.3" x2="310.8" y2="284.3"/><line x1="299.6" y1="289.4" x2="310.8" y2="289.4"/></g>
<circle cx="307.8" cy="281.8" r="1.4" fill="#5468c6"/>
<circle cx="296.6" cy="286.1" r="1.4" fill="#5468c6"/>
<circle cx="300.6" cy="286.3" r="1.4" fill="#5468c6"/>
<circle cx="304" cy="289.0" r="1.4" fill="#5468c6"/>
<circle cx="308" cy="289.0" r="1.4" fill="#5468c6"/>
<circle cx="313.1" cy="289.7" r="1.4" fill="#5468c6"/>
<g stroke="#e85d46" stroke-width="1.1" opacity="0.85"><line x1="338.3" y1="245.3" x2="338.3" y2="269.4"/><line x1="332.8" y1="245.3" x2="343.9" y2="245.3"/><line x1="332.8" y1="269.4" x2="343.9" y2="269.4"/></g>
<rect x="338.5" y="239.6" width="3.0" height="3.0" fill="none" stroke="#ee8c79" stroke-width="0.6" opacity="0.6"/>
<rect x="335.0" y="243.0" width="3.0" height="3.0" fill="none" stroke="#ee8c79" stroke-width="0.6" opacity="0.6"/>
<rect x="335.7" y="254.89999999999998" width="3.0" height="3.0" fill="none" stroke="#ee8c79" stroke-width="0.6" opacity="0.6"/>
<rect x="334.6" y="261.3" width="3.0" height="3.0" fill="none" stroke="#ee8c79" stroke-width="0.6" opacity="0.6"/>
<rect x="339.1" y="263.5" width="3.0" height="3.0" fill="none" stroke="#ee8c79" stroke-width="0.6" opacity="0.6"/>
<rect x="336.3" y="270.5" width="3.0" height="3.0" fill="none" stroke="#ee8c79" stroke-width="0.6" opacity="0.6"/>
<g stroke="#93d9e1" stroke-width="1.0" opacity="0.85"><line x1="371.3" y1="277.8" x2="371.3" y2="281.4"/><line x1="366.2" y1="277.8" x2="376.3" y2="277.8"/><line x1="366.2" y1="281.4" x2="376.3" y2="281.4"/></g>
<path d="M362.6 276.805 L364.095 279.40500000000003 L361.105 279.40500000000003 Z" fill="#93d9e1"/>
<path d="M368.2 275.605 L369.695 278.20500000000004 L366.705 278.20500000000004 Z" fill="#93d9e1"/>
<path d="M371.2 277.605 L372.695 280.20500000000004 L369.705 280.20500000000004 Z" fill="#93d9e1"/>
<path d="M374 275.805 L375.495 278.40500000000003 L372.505 278.40500000000003 Z" fill="#93d9e1"/>
<path d="M379.4 280.905 L380.895 283.505 L377.905 283.505 Z" fill="#93d9e1"/>
<line x1="283.2" y1="301.6" x2="393.8" y2="301.6" stroke="#6e6e6e" stroke-width="0.9"/>
<line x1="305.4" y1="301.6" x2="305.4" y2="304.0" stroke="#6e6e6e" stroke-width="0.9"/>
<line x1="338.1" y1="301.6" x2="338.1" y2="304.0" stroke="#6e6e6e" stroke-width="0.9"/>
<line x1="371.3" y1="301.6" x2="371.3" y2="304.0" stroke="#6e6e6e" stroke-width="0.9"/>
<text x="305.3" y="312.3" font-size="7" font-weight="bold" text-anchor="middle" fill="#231815">SCR</text>
<text x="337.2" y="312.3" font-size="7" font-weight="bold" text-anchor="middle" fill="#231815">APOA2</text>
<text x="372.0" y="312.3" font-size="7" font-weight="bold" text-anchor="middle" fill="#231815">APOA2+GW</text>
<line x1="301.0" y1="235.7" x2="339.4" y2="235.7" stroke="#a6a6a6" stroke-width="1.4"/>
<text x="320.0" y="237.06" font-size="5.8" font-weight="bold" text-anchor="middle" fill="#231815">*</text>
<line x1="338.3" y1="238.6" x2="376.8" y2="238.6" stroke="#a6a6a6" stroke-width="1.4"/>
<text x="355.1" y="238.36" font-size="5.8" font-weight="bold" text-anchor="middle" fill="#231815">*</text>
<text x="262.1" y="258.8" font-size="7" font-weight="bold" text-anchor="middle" fill="#231815" transform="rotate(-90 262.1 258.8)">FA uptake</text>
<text x="270.7" y="259.9" font-size="7" font-weight="bold" text-anchor="middle" fill="#231815" transform="rotate(-90 270.7 259.9)">(Fold change)</text>
<line x1="431.5" y1="226.2" x2="431.5" y2="304.79999999999995" stroke="#6e6e6e" stroke-width="0.9"/>
<line x1="428.9" y1="226.59999999999997" x2="431.5" y2="226.59999999999997" stroke="#6e6e6e" stroke-width="0.9"/>
<text x="427.2" y="229.1" font-size="7" font-weight="bold" text-anchor="end" fill="#231815">2.5</text>
<line x1="428.9" y1="242.15999999999997" x2="431.5" y2="242.15999999999997" stroke="#6e6e6e" stroke-width="0.9"/>
<text x="427.2" y="244.66" font-size="7" font-weight="bold" text-anchor="end" fill="#231815">2.0</text>
<line x1="428.9" y1="257.71999999999997" x2="431.5" y2="257.71999999999997" stroke="#6e6e6e" stroke-width="0.9"/>
<text x="427.2" y="260.22" font-size="7" font-weight="bold" text-anchor="end" fill="#231815">1.5</text>
<line x1="428.9" y1="273.28" x2="431.5" y2="273.28" stroke="#6e6e6e" stroke-width="0.9"/>
<text x="427.2" y="275.78" font-size="7" font-weight="bold" text-anchor="end" fill="#231815">1.0</text>
<line x1="428.9" y1="288.84" x2="431.5" y2="288.84" stroke="#6e6e6e" stroke-width="0.9"/>
<text x="427.2" y="291.34" font-size="7" font-weight="bold" text-anchor="end" fill="#231815">0.5</text>
<line x1="428.9" y1="304.4" x2="431.5" y2="304.4" stroke="#6e6e6e" stroke-width="0.9"/>
<text x="427.2" y="306.9" font-size="7" font-weight="bold" text-anchor="end" fill="#231815">0.0</text>
<path d="M443.5 304.4 V269.20 H465.7 V304.4" fill="none" stroke="#5468c6" stroke-width="1.4"/>
<path d="M478.5 304.4 V248.10 H500.6 V304.4" fill="none" stroke="#e85d46" stroke-width="1.4"/>
<path d="M513.5 304.4 V260.60 H535.8 V304.4" fill="none" stroke="#93d9e1" stroke-width="1.4"/>
<g stroke="#5468c6" stroke-width="1.0" opacity="0.85"><line x1="454.7" y1="263.5" x2="454.7" y2="274.6"/><line x1="449.1" y1="263.5" x2="460.6" y2="263.5"/><line x1="449.1" y1="274.6" x2="460.6" y2="274.6"/></g>
<circle cx="454.7" cy="260.7" r="1.6" fill="#5468c6"/>
<circle cx="446.6" cy="267.0" r="1.6" fill="#5468c6"/>
<circle cx="454.7" cy="267.0" r="1.6" fill="#5468c6"/>
<circle cx="462.4" cy="270.2" r="1.6" fill="#5468c6"/>
<circle cx="450.5" cy="273.0" r="1.6" fill="#5468c6"/>
<circle cx="458.5" cy="276.3" r="1.6" fill="#5468c6"/>
<g stroke="#e85d46" stroke-width="1.1" opacity="0.85"><line x1="489.5" y1="241.4" x2="489.5" y2="253.5"/><line x1="484.0" y1="241.4" x2="495.5" y2="241.4"/><line x1="484.0" y1="253.5" x2="495.5" y2="253.5"/></g>
<circle cx="491" cy="238.6" r="1.6" fill="none" stroke="#ee8c79" stroke-width="0.6" opacity="0.6"/>
<circle cx="487" cy="244" r="1.6" fill="none" stroke="#ee8c79" stroke-width="0.6" opacity="0.6"/>
<circle cx="491" cy="246.5" r="1.6" fill="none" stroke="#ee8c79" stroke-width="0.6" opacity="0.6"/>
<circle cx="488" cy="250.5" r="1.6" fill="none" stroke="#ee8c79" stroke-width="0.6" opacity="0.6"/>
<circle cx="491.4" cy="255.0" r="1.6" fill="none" stroke="#ee8c79" stroke-width="0.6" opacity="0.6"/>
<g stroke="#93d9e1" stroke-width="1.0" opacity="0.85"><line x1="524.7" y1="254.8" x2="524.7" y2="264.8"/><line x1="519.1" y1="254.8" x2="530.3" y2="254.8"/><line x1="519.1" y1="264.8" x2="530.3" y2="264.8"/></g>
<path d="M522.6 252.19 L524.21 254.99 L520.99 254.99 Z" fill="#93d9e1"/>
<path d="M526.8 252.19 L528.41 254.99 L525.1899999999999 254.99 Z" fill="#93d9e1"/>
<path d="M522.6 255.69 L524.21 258.49 L520.99 258.49 Z" fill="#93d9e1"/>
<path d="M526.4 259.89 L528.01 262.69 L524.79 262.69 Z" fill="#93d9e1"/>
<path d="M522.6 261.99 L524.21 264.79 L520.99 264.79 Z" fill="#93d9e1"/>
<path d="M526.4 265.89 L528.01 268.69 L524.79 268.69 Z" fill="#93d9e1"/>
<line x1="431.5" y1="304.4" x2="548.1" y2="304.4" stroke="#6e6e6e" stroke-width="0.9"/>
<line x1="454.3" y1="304.4" x2="454.3" y2="306.79999999999995" stroke="#6e6e6e" stroke-width="0.9"/>
<line x1="489.5" y1="304.4" x2="489.5" y2="306.79999999999995" stroke="#6e6e6e" stroke-width="0.9"/>
<line x1="524.3" y1="304.4" x2="524.3" y2="306.79999999999995" stroke="#6e6e6e" stroke-width="0.9"/>
<text x="454.0" y="313.9" font-size="7" font-weight="bold" text-anchor="middle" fill="#231815">SCR</text>
<text x="489.5" y="313.9" font-size="7" font-weight="bold" text-anchor="middle" fill="#231815">APOA2</text>
<text x="526.1" y="313.9" font-size="7" font-weight="bold" text-anchor="middle" fill="#231815">APOA2+GW</text>
<line x1="452.7" y1="231.9" x2="490.9" y2="231.9" stroke="#a6a6a6" stroke-width="1.4"/>
<text x="471.8" y="233.06" font-size="5.8" font-weight="bold" text-anchor="middle" fill="#231815">*</text>
<line x1="490.0" y1="235.0" x2="528.2" y2="235.0" stroke="#a6a6a6" stroke-width="1.4"/>
<text x="506.5" y="234.81" font-size="6.3" font-weight="bold" text-anchor="middle" fill="#231815">*</text>
<text x="405.8" y="265.3" font-size="7" font-weight="bold" text-anchor="middle" fill="#231815" transform="rotate(-90 405.8 265.3)">Oxygen consumption rate</text>
<text x="413.9" y="266.2" font-size="7" font-weight="bold" text-anchor="middle" fill="#231815" transform="rotate(-90 413.9 266.2)">(Fold change)</text>
<line x1="579.3" y1="232.5" x2="579.3" y2="302.59999999999997" stroke="#6e6e6e" stroke-width="0.9"/>
<line x1="576.6999999999999" y1="232.88" x2="579.3" y2="232.88" stroke="#6e6e6e" stroke-width="0.9"/>
<text x="575.0" y="235.38" font-size="7" font-weight="bold" text-anchor="end" fill="#231815">400</text>
<line x1="576.6999999999999" y1="250.20999999999998" x2="579.3" y2="250.20999999999998" stroke="#6e6e6e" stroke-width="0.9"/>
<text x="575.0" y="252.71" font-size="7" font-weight="bold" text-anchor="end" fill="#231815">300</text>
<line x1="576.6999999999999" y1="267.53999999999996" x2="579.3" y2="267.53999999999996" stroke="#6e6e6e" stroke-width="0.9"/>
<text x="575.0" y="270.04" font-size="7" font-weight="bold" text-anchor="end" fill="#231815">200</text>
<line x1="576.6999999999999" y1="284.87" x2="579.3" y2="284.87" stroke="#6e6e6e" stroke-width="0.9"/>
<text x="575.0" y="287.37" font-size="7" font-weight="bold" text-anchor="end" fill="#231815">100</text>
<line x1="576.6999999999999" y1="302.2" x2="579.3" y2="302.2" stroke="#6e6e6e" stroke-width="0.9"/>
<text x="575.0" y="304.7" font-size="7" font-weight="bold" text-anchor="end" fill="#231815">0</text>
<path d="M590.6 302.2 V284.60 H609.9 V302.2" fill="none" stroke="#5468c6" stroke-width="1.4"/>
<path d="M621.4 302.2 V247.60 H640.6 V302.2" fill="none" stroke="#e85d46" stroke-width="1.4"/>
<path d="M652.3 302.2 V278.10 H671.8 V302.2" fill="none" stroke="#93d9e1" stroke-width="1.4"/>
<g stroke="#5468c6" stroke-width="0.9" opacity="0.85"><line x1="600.3" y1="283.3" x2="600.3" y2="285.8"/><line x1="595.5" y1="283.3" x2="605.5" y2="283.3"/><line x1="595.5" y1="285.8" x2="605.5" y2="285.8"/></g>
<circle cx="591.3" cy="282.6" r="1.2" fill="#5468c6"/>
<circle cx="595" cy="283.5" r="1.2" fill="#5468c6"/>
<circle cx="601.7" cy="282.3" r="1.2" fill="#5468c6"/>
<circle cx="605.3" cy="285.9" r="1.2" fill="#5468c6"/>
<circle cx="598.4" cy="286.2" r="1.2" fill="#5468c6"/>
<circle cx="608.5" cy="285.0" r="1.2" fill="#5468c6"/>
<g stroke="#e85d46" stroke-width="1.1" opacity="0.85"><line x1="631.0" y1="242.4" x2="631.0" y2="251.4"/><line x1="625.9" y1="242.4" x2="636.0" y2="242.4"/><line x1="625.9" y1="251.4" x2="636.0" y2="251.4"/></g>
<rect x="622.5" y="242.9" width="2.8" height="2.8" fill="none" stroke="#ee8c79" stroke-width="0.6" opacity="0.6"/>
<rect x="627.6" y="242.1" width="2.8" height="2.8" fill="none" stroke="#ee8c79" stroke-width="0.6" opacity="0.6"/>
<rect x="636.2" y="244.1" width="2.8" height="2.8" fill="none" stroke="#ee8c79" stroke-width="0.6" opacity="0.6"/>
<rect x="628.1" y="248.1" width="2.8" height="2.8" fill="none" stroke="#ee8c79" stroke-width="0.6" opacity="0.6"/>
<rect x="633.0" y="252.7" width="2.8" height="2.8" fill="none" stroke="#ee8c79" stroke-width="0.6" opacity="0.6"/>
<g stroke="#93d9e1" stroke-width="0.9" opacity="0.85"><line x1="662.0" y1="276.6" x2="662.0" y2="279.3"/><line x1="657.0" y1="276.6" x2="667.0" y2="276.6"/><line x1="657.0" y1="279.3" x2="667.0" y2="279.3"/></g>
<path d="M653.5 276.12 L654.88 278.52 L652.12 278.52 Z" fill="#93d9e1"/>
<path d="M657.5 275.12 L658.88 277.52 L656.12 277.52 Z" fill="#93d9e1"/>
<path d="M661.5 274.42 L662.88 276.82 L660.12 276.82 Z" fill="#93d9e1"/>
<path d="M665 275.22 L666.38 277.62 L663.62 277.62 Z" fill="#93d9e1"/>
<path d="M669.5 277.12 L670.88 279.52 L668.12 279.52 Z" fill="#93d9e1"/>
<line x1="576.8" y1="302.2" x2="682.9" y2="302.2" stroke="#6e6e6e" stroke-width="0.9"/>
<line x1="600.3" y1="302.2" x2="600.3" y2="304.59999999999997" stroke="#6e6e6e" stroke-width="0.9"/>
<line x1="631.0" y1="302.2" x2="631.0" y2="304.59999999999997" stroke="#6e6e6e" stroke-width="0.9"/>
<line x1="662.1" y1="302.2" x2="662.1" y2="304.59999999999997" stroke="#6e6e6e" stroke-width="0.9"/>
<text x="599.0" y="311.9" font-size="7" font-weight="bold" text-anchor="middle" fill="#231815">SCR</text>
<text x="631.0" y="311.9" font-size="7" font-weight="bold" text-anchor="middle" fill="#231815">APOA2</text>
<text x="663.5" y="311.9" font-size="7" font-weight="bold" text-anchor="middle" fill="#231815">APOA2+GW</text>
<line x1="597.6" y1="234.8" x2="630.3" y2="234.8" stroke="#a6a6a6" stroke-width="1.4"/>
<text x="613.6" y="234.56" font-size="6" font-weight="bold" text-anchor="middle" fill="#231815">*</text>
<line x1="629.0" y1="239.0" x2="660.4" y2="239.0" stroke="#a6a6a6" stroke-width="1.4"/>
<text x="645.8" y="238.76" font-size="6" font-weight="bold" text-anchor="middle" fill="#231815">*</text>
<text x="553.2" y="262.8" font-size="7" font-weight="bold" text-anchor="middle" fill="#231815" transform="rotate(-90 553.2 262.8)">ATP level</text>
<text x="559.8" y="264.3" font-size="7" font-weight="bold" text-anchor="middle" fill="#231815" transform="rotate(-90 559.8 264.3)">(%of SCR)</text>
</svg>
</body></html>
